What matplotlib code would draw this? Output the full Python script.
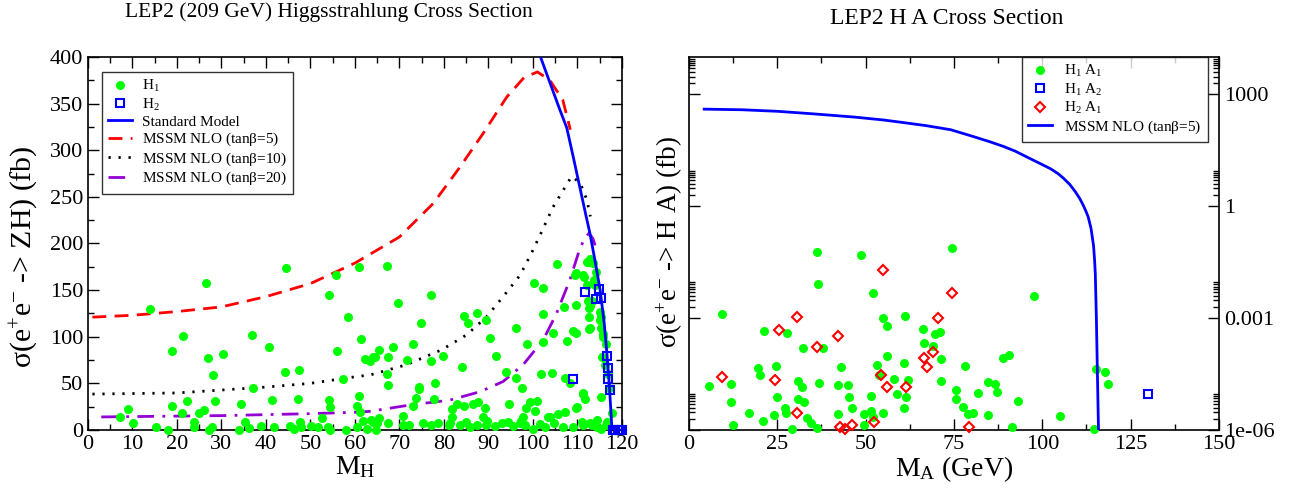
import numpy as np
import matplotlib
matplotlib.use('Agg')
import matplotlib.pyplot as plt
from matplotlib.ticker import MultipleLocator, FixedLocator, FixedFormatter, NullFormatter

plt.rcParams['font.family'] = ['Liberation Serif', 'DejaVu Serif']
plt.rcParams['mathtext.fontset'] = 'custom'
plt.rcParams['mathtext.rm'] = 'Liberation Serif'
plt.rcParams['mathtext.it'] = 'Liberation Serif:italic'

# ---- left panel: higgsstrahlung ----
h1_mass = [13.9, 44.6, 26.5, 55.7, 61.0, 54.2, 58.5, 21.4, 36.8, 61.3, 18.9, 27.0, 30.3, 40.7, 55.9,
           62.3, 63.4, 64.5, 65.5, 28.0, 44.3, 47.5, 57.4, 37.2, 47.1, 54.2, 60.8, 22.2, 28.6, 41.3,
           34.3, 8.9, 19.0, 21.2, 25.0, 26.1, 54.5, 60.4, 61.1, 61.9, 63.6, 65.5, 7.3, 10.2, 23.8,
           23.8, 15.3, 18.0, 27.3, 27.8, 34.0, 35.3, 36.3, 39.0, 41.8, 45.5, 46.2, 47.6, 47.9, 50.1,
           51.6, 52.7, 54.0, 54.5, 58.1, 60.4, 62.7, 64.7, 67.1, 77.2, 69.7, 74.8, 84.5, 85.5, 87.5,
           89.4, 90.3, 96.2, 100.2, 102.2, 105.5, 102.2, 98.6, 102.2, 104.4, 107.0, 109.4, 109.6, 109.1, 107.7,
           112.7, 112.7, 112.7, 113.3, 112.1, 111.3, 112.1, 115.0, 115.4, 115.7, 115.0, 64.1, 67.5, 68.6, 73.0,
           71.8, 77.1, 79.7, 84.0, 91.8, 67.1, 67.5, 74.5, 74.4, 78.0, 93.9, 96.1, 97.5, 101.8, 104.2,
           107.2, 108.3, 111.3, 111.7, 115.2, 109.8, 73.7, 73.0, 77.8, 83.0, 84.5, 86.6, 87.7, 89.2, 88.8,
           94.7, 98.4, 99.3, 100.8, 100.5, 97.8, 97.3, 103.8, 105.7, 101.5, 81.7, 81.7, 70.9, 81.3, 64.1,
           89.7, 94.3, 64.9, 67.5, 70.9, 72.2, 75.3, 77.1, 78.6, 81.1, 83.6, 85.0, 85.8, 87.5, 89.5,
           91.4, 93.1, 95.5, 97.0, 98.1, 100.0, 102.6, 104.8, 106.7, 109.0, 111.3, 112.8, 114.3, 115.4, 116.5,
           112.4, 112.9, 113.4, 111.5, 114.1, 113.8, 114.0, 109.7, 112.4, 112.8, 115.3, 112.8, 109.7, 115.8, 116.5,
           115.6, 117.8, 116.6, 114.3, 113.2, 111.0, 111.2, 109.7, 107.2, 103.4, 116.8, 117.0, 116.2]
h1_xsec = [129.8, 174, 158, 166, 175, 145, 121.5, 100.8, 102, 98, 85, 77, 81, 89, 84.7,
           76, 74, 78.6, 85.8, 59, 61.9, 64, 54.7, 44.7, 33.2, 32, 36.5, 31.4, 30.7, 32,
           27.5, 22.2, 25.7, 18.6, 17.9, 21.4, 25, 25.7, 19.6, 9.6, 10.7, 12.5, 13.6, 7.1, 8.9,
           3.6, 2.9, 0.5, 0.5, 3.5, 0.5, 8.9, 2.5, 4.3, 3.6, 4.3, 1.5, 8.9, 3.6, 4.3,
           3.6, 13.2, 3.6, 0.5, 0.5, 3.6, 1.5, 0.5, 175.9, 144.8, 136.5, 115, 122, 115, 125,
           118, 98.3, 109, 158, 152.6, 178, 124, 91.9, 94.7, 103.7, 132, 166, 134, 106, 95.8,
           108, 121.5, 131, 138, 180.5, 166, 156, 118, 109, 100, 127, 78, 78, 88.7, 92,
           75, 74.3, 79.4, 67.9, 79.7, 60, 48.3, 46.5, 43.8, 50.8, 61.8, 55.4, 44.7, 60, 61.5,
           55.4, 50, 38.6, 32.9, 35, 24.3, 34, 26, 33.2, 27.9, 26, 27.9, 30.4, 23.2, 14.3,
           27.9, 24, 30.4, 31.4, 20.7, 14.3, 10, 14.3, 16.8, 6.8, 22.1, 14.3, 15.4, 7.1, 9,
           10, 8.9, 7, 7, 5, 5, 7, 5, 7, 5, 5, 9, 3.6, 5, 5,
           4, 8, 4, 7, 5, 1.5, 3, 7, 3, 3, 5, 7, 3, 1.5, 5,
           180.5, 183, 178.6, 164.4, 169.8, 161, 155.5, 168.7, 138, 133, 121.5, 109, 104, 103, 92,
           78, 18, 8.9, 10.7, 5.4, 8.9, 39.3, 23.2, 19.6, 14.3, 60, 45, 70]

h2_mass = [111.8, 114.9, 114.2, 115.3, 116.7, 116.9, 116.9, 117.3, 108.9, 118.0, 118.5, 119.0, 119.5, 120.0]
h2_xsec = [147.6, 150.8, 140, 142, 79, 67, 55, 43, 55, 0.5, 0.5, 0.5, 0.5, 0.5]

sm_mass = [101.7, 104, 106, 107.6, 109, 110.5, 112, 112.8, 114, 115.1, 116, 116.6, 117.2, 117.7, 118, 120]
sm_xsec = [400, 370, 344, 324, 294, 261, 228, 211, 180, 150, 115, 83, 45, 5, 0, 0]

tb5_mass = [1, 10, 20, 30, 40, 50, 60, 70, 77.6, 83.6, 88.8, 94.1, 98, 101, 103.8, 106.7, 108.4]
tb5_xsec = [121, 123, 127, 132, 143, 157, 179, 207, 243, 282, 318, 357, 378, 384, 375, 354, 322]

tb10_mass = [1, 20, 40, 50, 60, 63.4, 71.6, 79.5, 85.1, 89.6, 93.3, 97.1, 99.7, 101.6, 104.5, 108.7,
             110.6, 112.1, 112.9]
tb10_xsec = [38.5, 39.7, 46, 50, 57, 59, 70, 86, 102, 121.5, 143, 166, 190, 209, 239, 272, 265, 247, 229]

tb20_mass = [3, 30, 50, 60, 63.4, 72.4, 81.3, 88.1, 93.3, 97.8, 102.3, 105.3, 108.3, 110.1, 111.5,
             112.6, 113.5, 114.3]
tb20_xsec = [14, 15.4, 17.5, 19, 20, 26.8, 32, 41, 52, 70, 96.5, 125, 161, 188, 205, 211, 205, 193]

# ---- right panel: H A production ----
h1a1_mass = [36.3, 36.5, 48.8, 52.0, 9.3, 54.8, 56.0, 61.1, 21.3, 27.7, 32.4, 38.0, 19.4, 20.1, 24.5,
             42.9, 53.1, 53.7, 56.0, 60.8, 66.3, 66.6, 69.0, 69.7, 71.1, 5.7, 11.9, 11.8, 12.5, 16.9,
             21.0, 24.0, 25.0, 27.2, 27.5, 29.1, 30.8, 31.9, 30.8, 32.6, 33.4, 34.4, 36.1, 36.7, 42.3,
             45.1, 45.2, 46.1, 42.3, 49.5, 51.4, 52.1, 49.6, 51.4, 55.0, 58.9, 58.1, 62.1, 61.4, 60.9,
             74.4, 97.6, 71.2, 71.3, 78.0, 88.9, 90.5, 75.5, 75.5, 77.6, 78.9, 80.3, 81.7, 84.7, 86.6,
             87.1, 84.7, 93.2, 91.5, 105.0, 115.2, 117.7, 118.6, 114.6]
h1a1_xsec = [5.8e-2, 8.1e-3, 5.0e-2, 4.6e-3, 1.3e-3, 9.9e-4, 6.3e-4, 1.16e-3, 4.6e-4, 3.9e-4, 1.6e-4,
             1.6e-4, 4.5e-5, 2.9e-5, 5.3e-5, 5.0e-5, 5.5e-5, 2.9e-5, 9.6e-5, 6.4e-5, 5.1e-4, 2.1e-4,
             1.8e-4, 3.7e-4, 4.3e-4, 1.5e-5, 1.7e-5, 5.8e-6, 1.4e-6, 2.8e-6, 1.7e-6, 2.5e-6, 7.5e-6,
             4.0e-6, 2.8e-6, 1.05e-6, 2.0e-5, 1.4e-5, 6.8e-6, 5.8e-6, 2.1e-6, 1.5e-6, 1.15e-6, 1.8e-5,
             1.6e-5, 1.6e-5, 7.5e-6, 3.8e-6, 2.7e-6, 2.6e-6, 3.2e-6, 2.2e-6, 1.35e-6, 8.3e-6, 2.9e-6,
             9.5e-6, 2.3e-5, 2.2e-5, 7.8e-6, 3.8e-6, 7.4e-2, 4.0e-3, 7.9e-5, 2.1e-5, 5.2e-5, 8.3e-5,
             1.0e-4, 1.2e-5, 6.6e-6, 4.2e-6, 2.6e-6, 2.8e-6, 9.8e-6, 1.9e-5, 1.7e-5, 1.05e-5, 2.5e-6,
             6.0e-6, 1.2e-6, 2.4e-6, 4.4e-5, 3.6e-5, 1.7e-5, 1.07e-6]

h1a2_mass = [129.8]
h1a2_xsec = [9.3e-6]

h2a1_mass = [9.4, 25.6, 30.7, 24.3, 30.7, 36.3, 42.3, 42.7, 44.2, 46.1, 52.3, 54.3, 56.0, 55.0, 61.4,
             66.6, 67.3, 69.0, 70.6, 74.3, 79.3]
h2a1_xsec = [2.7e-5, 4.8e-4, 1.05e-3, 2.2e-5, 2.9e-6, 1.7e-4, 3.4e-4, 1.2e-6, 1.07e-6, 1.4e-6, 1.6e-6,
             2.9e-5, 1.4e-5, 1.95e-2, 1.4e-5, 8.3e-5, 5.0e-5, 1.2e-4, 9.9e-4, 4.6e-3, 1.2e-6]

ha_mass = [4.3, 15, 25, 35, 46.8, 55, 60, 67, 74.1, 80, 85, 89, 92.3, 96, 99, 102.4, 104.5, 106,
           107.8, 109.4, 110.6, 111.5, 112.3, 113.0, 113.8, 114.5, 114.8, 115.0, 115.3, 115.6, 115.9]
ha_xsec = [400, 385, 350, 300, 245, 205, 178, 145, 112, 76, 54, 40, 30, 20, 14.5, 10, 7.4, 5.6,
           3.8, 2.4, 1.6, 1.1, 0.75, 0.51, 0.25, 0.087, 0.035, 0.015, 1e-3, 3e-5, 1e-6]

fig = plt.figure(figsize=(12.99, 4.88), dpi=100)
ax1 = fig.add_axes([0.0677, 0.1189, 0.4111, 0.7643])
ax2 = fig.add_axes([0.5304, 0.1189, 0.408, 0.7643])

green = '#00ff00'
msize = 6.5

ax1.plot(h1_mass, h1_xsec, 'o', color=green, markersize=msize, markeredgewidth=0, clip_on=False,
         label='H$_1$', zorder=3)
ax1.plot(h2_mass, h2_xsec, 's', mfc='none', mec='#0000ff', markersize=6, markeredgewidth=1.5,
         clip_on=False, label='H$_2$', zorder=4)
ax1.plot(sm_mass, sm_xsec, '-', color='#0000ff', lw=2, label='Standard Model', zorder=5)
ax1.plot(tb5_mass, tb5_xsec, color='#ff0000', lw=2, dashes=(5, 3), label=r'MSSM NLO (tan$\mathrm{\beta}$=5)')
ax1.plot(tb10_mass, tb10_xsec, color='black', lw=2, dashes=(0.8, 2.8), label=r'MSSM NLO (tan$\mathrm{\beta}$=10)')
ax1.plot(tb20_mass, tb20_xsec, color='#9400d3', lw=2, dashes=(6, 3, 1, 3),
         label=r'MSSM NLO (tan$\mathrm{\beta}$=20)')

ax1.set_xlim(0, 120)
ax1.set_ylim(0, 400)
ax1.xaxis.set_major_locator(MultipleLocator(10))
ax1.xaxis.set_minor_locator(MultipleLocator(5))
ax1.yaxis.set_major_locator(MultipleLocator(50))
ax1.yaxis.set_minor_locator(MultipleLocator(25))
ax1.set_xlabel('M$_\\mathrm{H}$', fontsize=20, labelpad=0)
ax1.set_ylabel('σ(e$^{\\mathrm{+}}$e$^{\\mathrm{-}}$ -> ZH) (fb)', fontsize=21.5)
ax1.yaxis.set_label_coords(-0.09, 0.464)
leg1 = ax1.legend(loc='upper left', bbox_to_anchor=(0.026, 0.96), fontsize=11, frameon=True,
                  fancybox=False, edgecolor='black', handlelength=1.6, borderpad=0.4,
                  borderaxespad=0, labelspacing=0.15, handletextpad=0.6)
leg1.get_frame().set_linewidth(1)

ax2.plot(h1a1_mass, h1a1_xsec, 'o', color=green, markersize=msize, markeredgewidth=0, clip_on=False,
         label='H$_1$ A$_1$', zorder=3)
ax2.plot(h1a2_mass, h1a2_xsec, 's', mfc='none', mec='#0000ff', markersize=6, markeredgewidth=1.5,
         label='H$_1$ A$_2$', zorder=4)
ax2.plot(h2a1_mass, h2a1_xsec, 'D', mfc='none', mec='#ff0000', markersize=5, markeredgewidth=1.5,
         clip_on=False, label='H$_2$ A$_1$', zorder=4)
ax2.plot(ha_mass, ha_xsec, '-', color='#0000ff', lw=2, label=r'MSSM NLO (tan$\mathrm{\beta}$=5)', zorder=5)

ax2.set_yscale('log')
ax2.set_xlim(0, 150)
ax2.set_ylim(1e-6, 1e4)
ax2.xaxis.set_major_locator(MultipleLocator(25))
ax2.xaxis.set_minor_locator(MultipleLocator(12.5))
ax2.yaxis.set_major_locator(FixedLocator([1e-6, 1e-3, 1, 1e3]))
ax2.yaxis.set_major_formatter(FixedFormatter(['1e-06', '0.001', '1', '1000']))
minor = [k * 10.0 ** m for m in (-6, -3, 0, 3) for k in range(2, 10)]
ax2.yaxis.set_minor_locator(FixedLocator(minor))
ax2.yaxis.set_minor_formatter(NullFormatter())
ax2.set_xlabel('M$_\\mathrm{A}$ (GeV)', fontsize=20, labelpad=0)
ax2.set_ylabel('σ(e$^{\\mathrm{+}}$e$^{\\mathrm{-}}$ -> H A) (fb)', fontsize=19.5)
leg2 = ax2.legend(loc='upper right', bbox_to_anchor=(0.979, 1.0), fontsize=11, frameon=True,
                  fancybox=False, edgecolor='black', handlelength=1.6, borderpad=0.4,
                  borderaxespad=0, labelspacing=0.15, handletextpad=0.8)
leg2.get_frame().set_linewidth(1)

for ax in (ax1, ax2):
    ax.tick_params(which='both', direction='in', top=True, right=True, labelsize=16, width=1)
    ax.tick_params(which='major', length=8)
    ax.tick_params(which='minor', length=4)
    for sp in ax.spines.values():
        sp.set_linewidth(1.2)

# log panel keeps its numbers on the right side, label on the left
ax2.tick_params(axis='y', which='both', labelleft=False, labelright=True)
ax2.yaxis.set_label_position('left')
ax2.yaxis.set_label_coords(-0.008, 0.503)

fig.text(0.253, 0.975, 'LEP2 (209 GeV) Higgsstrahlung Cross Section', ha='center', va='center', fontsize=15.5)
fig.text(0.729, 0.963, 'LEP2 H A Cross Section', ha='center', va='center', fontsize=17)

fig.savefig('out.png', dpi=100)
